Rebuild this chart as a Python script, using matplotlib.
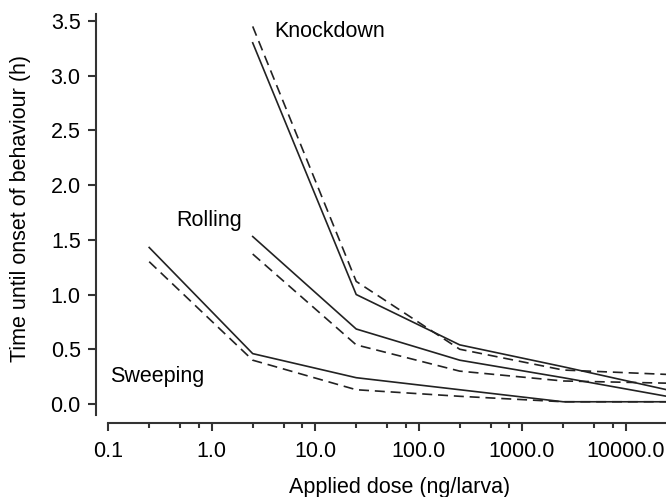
import numpy as np
import matplotlib.pyplot as plt
from matplotlib.ticker import FixedLocator, FuncFormatter

plt.rcParams['font.family'] = ['Liberation Sans', 'DejaVu Sans']

# doses (ng/larva)
dose = [0.25, 2.5, 25, 250, 2500, 25000]
dose_late = [2.5, 25, 250, 2500, 25000]

# time until onset (h): solid and dashed line per behaviour
sweep_solid = [1.43, 0.46, 0.24, 0.13, 0.02, 0.02]
sweep_dash = [1.30, 0.40, 0.13, 0.07, 0.02, 0.02]
roll_solid = [1.53, 0.685, 0.40, 0.24, 0.07]
roll_dash = [1.37, 0.54, 0.30, 0.21, 0.19]
knock_solid = [3.30, 1.00, 0.54, 0.34, 0.13]
knock_dash = [3.45, 1.12, 0.50, 0.31, 0.27]

xticks = [0.1, 1, 10, 100, 1000, 10000]
xtick_labels = ["0.1", "1.0", "10.0", "100.0", "1000.0", "10000.0"]
yticks = [0.0, 0.5, 1.0, 1.5, 2.0, 2.5, 3.0, 3.5]

fs = 15.5

fig = plt.figure(figsize=(6.66, 4.97), dpi=100)
ax = fig.add_axes([96/666, 74/497, 570/666, 413/497])

lc = '#222222'
dash = (0, (6, 3.5))
ax.plot(dose, sweep_solid, color=lc, lw=1.2)
ax.plot(dose, sweep_dash, color=lc, lw=1.2, linestyle=dash)
ax.plot(dose_late, roll_solid, color=lc, lw=1.2)
ax.plot(dose_late, roll_dash, color=lc, lw=1.2, linestyle=dash)
ax.plot(dose_late, knock_solid, color=lc, lw=1.2)
ax.plot(dose_late, knock_dash, color=lc, lw=1.2, linestyle=dash)

ax.set_xscale('log')
ax.set_xlim(10**-1.116, 10**4.391)
ax.set_ylim(-0.174, 3.60)

ax.spines['top'].set_visible(False)
ax.spines['right'].set_visible(False)
for s in ['left', 'bottom']:
    ax.spines[s].set_linewidth(1.5)
    ax.spines[s].set_color('#333333')
ax.spines['left'].set_bounds(-0.1, 3.56)
ax.spines['bottom'].set_bounds(0.1, 10**4.391)

ax.xaxis.set_major_locator(FixedLocator(xticks))
ax.set_xticklabels(xtick_labels)
minors = [m * 10.0**e for e in range(-1, 5) for m in (2.5, 5, 7.5)]
ax.xaxis.set_minor_locator(FixedLocator(minors))
ax.xaxis.set_minor_formatter(FuncFormatter(lambda v, p: ""))
ax.set_yticks(yticks)
ax.set_yticklabels([f"{v:.1f}" for v in yticks])

ax.tick_params(axis='both', which='major', length=6, width=1.5, color='#333333',
               labelsize=fs)
ax.tick_params(axis='x', which='major', pad=7)
ax.tick_params(axis='y', which='major', pad=5)
ax.tick_params(axis='x', which='minor', length=3.5, width=1.5, color='#333333')

ax.set_xlabel("Applied dose (ng/larva)", fontsize=fs)
ax.xaxis.set_label_coords(0.533, -0.157)
ax.xaxis.label.set_va('center')
ax.set_ylabel("Time until onset of behaviour (h)", fontsize=fs)
ax.yaxis.set_label_coords(-0.133, 0.52)
ax.yaxis.label.set_va('center')

ax.text(4.0, 3.40, "Knockdown", fontsize=fs, va='center', ha='left')
ax.text(0.46, 1.68, "Rolling", fontsize=fs, va='center', ha='left')
ax.text(0.105, 0.25, "Sweeping", fontsize=fs, va='center', ha='left')

fig.savefig("out.png", dpi=100)
